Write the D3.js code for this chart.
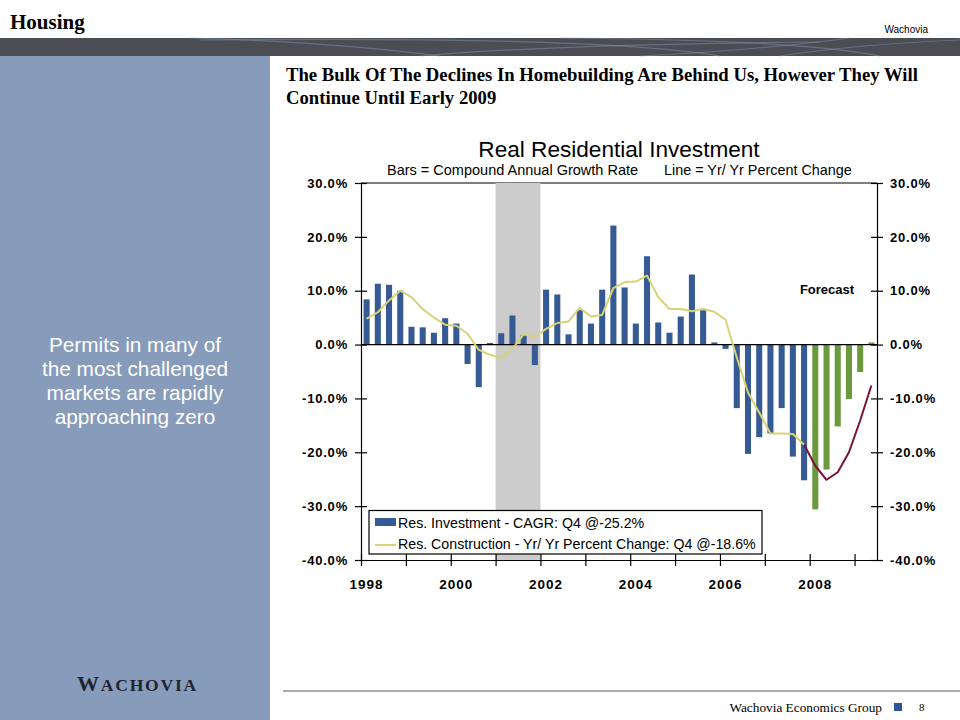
<!DOCTYPE html>
<html lang="en">
<head>
<meta charset="UTF-8">
<script src="https://d3js.org/d3.v7.min.js"></script>
<style>
    body { margin: 0; background: #fff; }
    svg { display: block; }
    .sans { font-family: "Liberation Sans", Arial, sans-serif; }
    .serif { font-family: "Liberation Serif", "Times New Roman", serif; }
</style>
</head>
<body>
<svg id="page" width="960" height="720"></svg>
<script>
// quarterly categories, 1998Q1 .. 2009Q2
const quarters = [
    "1998Q1","1998Q2","1998Q3","1998Q4","1999Q1","1999Q2","1999Q3","1999Q4",
    "2000Q1","2000Q2","2000Q3","2000Q4","2001Q1","2001Q2","2001Q3","2001Q4",
    "2002Q1","2002Q2","2002Q3","2002Q4","2003Q1","2003Q2","2003Q3","2003Q4",
    "2004Q1","2004Q2","2004Q3","2004Q4","2005Q1","2005Q2","2005Q3","2005Q4",
    "2006Q1","2006Q2","2006Q3","2006Q4","2007Q1","2007Q2","2007Q3","2007Q4",
    "2008Q1","2008Q2","2008Q3","2008Q4","2009Q1","2009Q2"
];
// bars: Res. Investment, compound annual growth rate (%)
const cagr = [
    8.4, 11.3, 11.1, 10.0,  3.3, 3.2, 2.2, 4.9,
    3.9, -3.6, -7.9, 0.3,   2.1, 5.4, 1.7, -3.8,
    10.2, 9.3, 1.9, 6.4,    3.9, 10.2, 22.1, 10.6,
    3.9, 16.4, 4.1, 2.2,    5.2, 13.0, 6.4, 0.4,
    -0.8, -11.8, -20.3, -17.2, -16.5, -11.8, -20.8, -25.2,
    -30.6, -23.2, -15.2, -10.1, -5.1, 0.4
];
const firstForecast = "2008Q1";
// line: Res. Construction, yr/yr percent change (%), actual 1998Q1..2007Q4
const yoyActual = [
    4.8, 6.0, 8.2, 10.0,  8.8, 6.6, 5.0, 3.7,
    3.5, 2.0, -1.0, -1.9, -2.5, -0.8, 1.9, 1.5,
    2.9, 4.0, 4.3, 6.8,   5.2, 5.5, 10.5, 11.6,
    11.7, 12.8, 8.8, 6.6, 6.6, 6.2, 6.6, 6.1,
    4.6, -2.4, -8.9, -12.6, -16.5, -16.5, -16.6, -18.6
];
// forecast part of the line, 2007Q4..2009Q2
const yoyForecastQuarters = ["2007Q4","2008Q1","2008Q2","2008Q3","2008Q4","2009Q1","2009Q2"];
const yoyForecast = [-18.6, -22.5, -25.1, -23.7, -20.0, -14.1, -7.6];

const yTicks = [30, 20, 10, 0, -10, -20, -30, -40];
const yearTicks = [1998, 1999, 2000, 2001, 2002, 2003, 2004, 2005, 2006, 2007, 2008, 2009];
const yearLabels = [1998, 2000, 2002, 2004, 2006, 2008];
const recession = [2001, 2002];

const legendItems = [
    "Res. Investment - CAGR: Q4 @-25.2%",
    "Res. Construction - Yr/ Yr Percent Change: Q4 @-18.6%"
];

const BLUE = "#365a94", GREEN = "#6a9a3d", YELLOW = "#d8d277", MAROON = "#7b1236";

const svg = d3.select("#page");

// ---- slide frame ----
svg.append("rect").attr("x", 0).attr("y", 38).attr("width", 960).attr("height", 18).attr("fill", "#4c4d54");
// faint swooshes in the header band
const swoosh = [
    "M190,38 Q330,42 440,56", "M200,40 Q600,36 720,56", "M420,56 Q560,44 820,42",
    "M560,38 Q800,40 880,56", "M780,56 Q860,44 960,40", "M850,38 Q760,50 640,56"
];
svg.selectAll("path.sw").data(swoosh).enter().append("path")
    .attr("class", "sw").attr("d", d => d)
    .attr("fill", "none").attr("stroke", "#8a9cb4").attr("stroke-opacity", 0.45).attr("stroke-width", 1.2);

svg.append("rect").attr("x", 0).attr("y", 56).attr("width", 270).attr("height", 664).attr("fill", "#879bba");

svg.append("text").attr("class", "serif").attr("x", 10).attr("y", 29)
    .attr("font-size", 21).attr("font-weight", "bold").attr("fill", "#000").text("Housing");
svg.append("text").attr("class", "sans").attr("x", 928).attr("y", 33).attr("text-anchor", "end")
    .attr("font-size", 10).attr("fill", "#000").text("Wachovia");

const side = ["Permits in many of", "the most challenged", "markets are rapidly", "approaching zero"];
svg.selectAll("text.side").data(side).enter().append("text")
    .attr("class", "sans").attr("x", 135).attr("y", (d, i) => 352 + i * 24)
    .attr("text-anchor", "middle").attr("font-size", 20.8).attr("fill", "#fff").text(d => d);

const logo = svg.append("text").attr("class", "serif").attr("x", 77).attr("y", 691)
    .attr("font-weight", "bold").attr("fill", "#1f2333").attr("letter-spacing", 1.8);
logo.append("tspan").attr("font-size", 22).text("W");
logo.append("tspan").attr("font-size", 17.5).text("ACHOVIA");

svg.append("line").attr("x1", 283).attr("x2", 960).attr("y1", 691).attr("y2", 691)
    .attr("stroke", "#555").attr("stroke-width", 1);
svg.append("text").attr("class", "serif").attr("x", 882).attr("y", 712).attr("text-anchor", "end")
    .attr("font-size", 13.3).attr("fill", "#000").text("Wachovia Economics Group");
svg.append("rect").attr("x", 894).attr("y", 703).attr("width", 8).attr("height", 8).attr("fill", "#2f5597");
svg.append("text").attr("class", "serif").attr("x", 919).attr("y", 711)
    .attr("font-size", 11).attr("fill", "#000").text("8");

const heading = ["The Bulk Of The Declines In Homebuilding Are Behind Us, However They Will", "Continue Until Early 2009"];
svg.selectAll("text.head").data(heading).enter().append("text")
    .attr("class", "serif").attr("x", 286).attr("y", (d, i) => 81 + i * 23)
    .attr("font-size", 18.7).attr("font-weight", "bold").attr("fill", "#000").text(d => d);

// ---- chart ----
const pLeft = 361, pRight = 877, pTop = 183, pBottom = 560;

const x = d3.scaleBand().domain(quarters).range([pLeft, pRight]).paddingInner(0.46).paddingOuter(0.23);
const xYear = d3.scaleLinear().domain([1998, 2009.5]).range([pLeft, pRight]);
const y = d3.scaleLinear().domain([-40, 30]).range([pBottom, pTop]);
const cx = q => x(q) + x.bandwidth() / 2;

svg.append("text").attr("class", "sans").attr("x", 619).attr("y", 157).attr("text-anchor", "middle")
    .attr("font-size", 22.6).attr("fill", "#000").text("Real Residential Investment");
svg.append("text").attr("class", "sans").attr("x", 387).attr("y", 175)
    .attr("font-size", 14.5).attr("fill", "#000").text("Bars = Compound Annual Growth Rate");
svg.append("text").attr("class", "sans").attr("x", 664).attr("y", 175)
    .attr("font-size", 14.4).attr("fill", "#000").text("Line = Yr/ Yr Percent Change");

// top border of plot
svg.append("line").attr("x1", pLeft).attr("x2", pRight).attr("y1", pTop).attr("y2", pTop)
    .attr("stroke", "#000").attr("stroke-width", 1.2);

// recession shading
svg.append("rect")
    .attr("x", xYear(recession[0])).attr("width", xYear(recession[1]) - xYear(recession[0]))
    .attr("y", pTop).attr("height", pBottom - pTop).attr("fill", "#cccccc");

// axes
const fmt = d => d.toFixed(1) + "%";
const yl = svg.append("g").attr("transform", `translate(${pLeft},0)`)
    .call(d3.axisLeft(y).tickValues(yTicks).tickFormat(fmt).tickSize(6).tickSizeOuter(0).tickPadding(7));
yl.selectAll(".tick line").attr("x1", 6);
const yr = svg.append("g").attr("transform", `translate(${pRight},0)`)
    .call(d3.axisRight(y).tickValues(yTicks).tickFormat(fmt).tickSize(6).tickSizeOuter(0).tickPadding(7));
yr.selectAll(".tick line").attr("x1", -6);
const xb = svg.append("g").attr("transform", `translate(0,${pBottom})`)
    .call(d3.axisBottom(xYear).tickValues(yearTicks).tickFormat("").tickSize(6).tickSizeOuter(0));
xb.selectAll(".tick line").attr("y1", -6);
[yl, yr, xb].forEach(g => {
    g.select(".domain").attr("stroke", "#000").attr("stroke-width", 1.2);
    g.selectAll(".tick line").attr("stroke", "#000").attr("stroke-width", 1.2);
    g.selectAll("text").attr("class", "sans").attr("font-family", "Liberation Sans, Arial, sans-serif")
        .attr("font-size", 13).attr("font-weight", "bold").attr("letter-spacing", 0.8).attr("fill", "#000");
});

svg.selectAll("text.year").data(yearLabels).enter().append("text")
    .attr("class", "sans").attr("x", d => cx(d + "Q1")).attr("y", 589)
    .attr("text-anchor", "middle").attr("font-size", 13.5).attr("font-weight", "bold")
    .attr("letter-spacing", 1).attr("fill", "#000").text(d => d);

// bars
const fIdx = quarters.indexOf(firstForecast);
svg.selectAll("rect.bar").data(quarters).enter().append("rect")
    .attr("class", "bar")
    .attr("x", q => x(q)).attr("width", x.bandwidth())
    .attr("y", (q, i) => y(Math.max(0, cagr[i])))
    .attr("height", (q, i) => Math.abs(y(cagr[i]) - y(0)))
    .attr("fill", (q, i) => i >= fIdx ? GREEN : BLUE);

// zero line
svg.append("line").attr("x1", pLeft).attr("x2", pRight).attr("y1", y(0)).attr("y2", y(0))
    .attr("stroke", "#000").attr("stroke-width", 1.2);

// lines
const line = d3.line().x(d => cx(d[0])).y(d => y(d[1]));
svg.append("path")
    .attr("d", line(yoyActual.map((v, i) => [quarters[i], v])))
    .attr("fill", "none").attr("stroke", YELLOW).attr("stroke-width", 2).attr("stroke-linejoin", "round");
svg.append("path")
    .attr("d", line(yoyForecast.map((v, i) => [yoyForecastQuarters[i], v])))
    .attr("fill", "none").attr("stroke", MAROON).attr("stroke-width", 2).attr("stroke-linejoin", "round");

svg.append("text").attr("class", "sans").attr("x", 827).attr("y", 294).attr("text-anchor", "middle")
    .attr("font-size", 13).attr("font-weight", "bold").attr("fill", "#000").text("Forecast");

// legend
const lg = svg.append("g");
lg.append("rect").attr("x", 369).attr("y", 510.5).attr("width", 393).attr("height", 43.5)
    .attr("fill", "#fff").attr("stroke", "#000").attr("stroke-width", 1.2);
lg.append("rect").attr("x", 375).attr("y", 518).attr("width", 21).attr("height", 8).attr("fill", BLUE);
lg.append("line").attr("x1", 375).attr("x2", 396).attr("y1", 545).attr("y2", 545)
    .attr("stroke", YELLOW).attr("stroke-width", 2);
lg.selectAll("text").data(legendItems).enter().append("text")
    .attr("class", "sans").attr("x", 398).attr("y", (d, i) => 528 + i * 21)
    .attr("font-size", 14.2).attr("fill", "#000").text(d => d);
</script>
</body>
</html>
